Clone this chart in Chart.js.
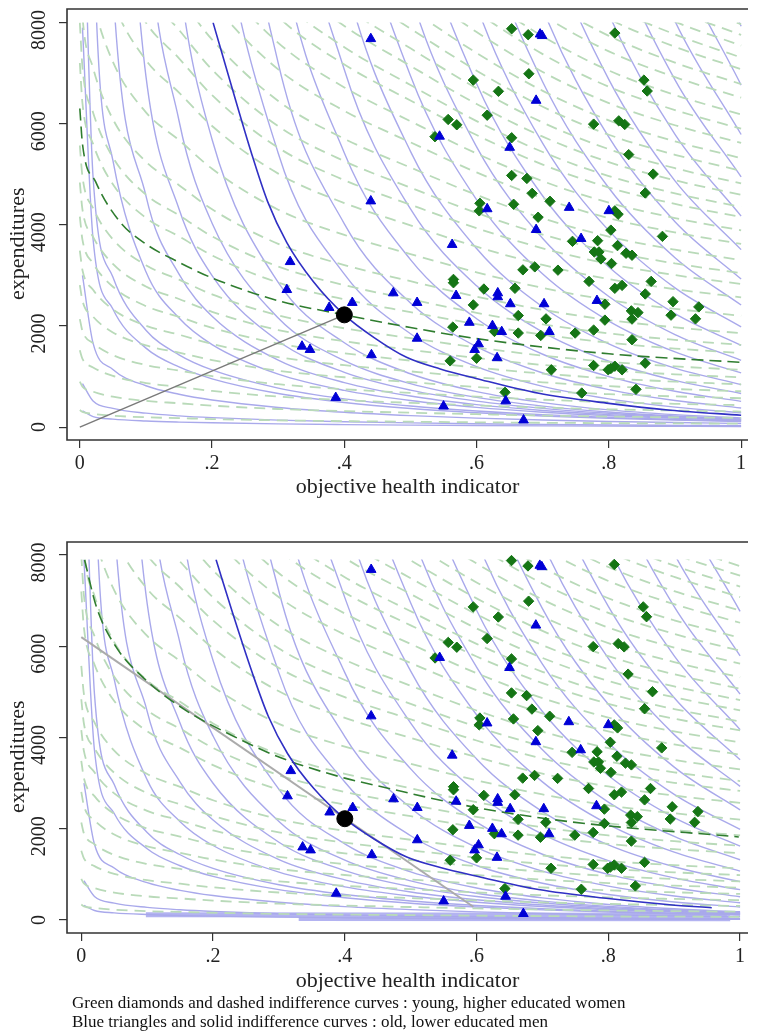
<!DOCTYPE html>
<html>
<head>
<meta charset="utf-8">
<script src="https://cdn.jsdelivr.net/npm/chart.js@4.4.1/dist/chart.umd.min.js"></script>
<style>
  html, body { margin: 0; padding: 0; background: #fff; }
  body { width: 757px; height: 1034px; position: relative; overflow: hidden;
         font-family: "Liberation Serif", "Times New Roman", serif; }
  canvas { position: absolute; left: 0; }
  #topChart { top: 0; }
  #bottomChart { top: 530px; }
  .note { position: absolute; left: 72px; font-size: 17px; color: #111; white-space: nowrap; }
</style>
</head>
<body>
<canvas id="topChart" width="757" height="500"></canvas>
<canvas id="bottomChart" width="757" height="470"></canvas>
<div class="note" style="top:993px">Green diamonds and dashed indifference curves : young, higher educated women</div>
<div class="note" style="top:1012px">Blue triangles and solid indifference curves : old, lower educated men</div>
<script>
// ---- axis ticks ----
const xTicks = [0, 0.2, 0.4, 0.6, 0.8, 1];
const xTickLabels = ['0', '.2', '.4', '.6', '.8', '1'];
const yTicks = [0, 2000, 4000, 6000, 8000];
const yTickLabels = ['0', '2000', '4000', '6000', '8000'];

// ---- observations: old, lower educated men (blue triangles) ----
const triX = [0.440, 0.440, 0.318, 0.313, 0.377, 0.412, 0.336, 0.348, 0.441, 0.387,
              0.696, 0.699, 0.690, 0.544, 0.650, 0.616, 0.740, 0.800, 0.690, 0.563,
              0.758, 0.474, 0.510, 0.569, 0.632, 0.632, 0.651, 0.702, 0.782, 0.589,
              0.624, 0.638, 0.710, 0.510, 0.603, 0.597, 0.631, 0.550, 0.644, 0.671];
const triY = [7680, 4470, 3270, 2717, 2363, 2462, 1597, 1532, 1428, 583,
              7770, 7740, 6460, 5750, 5530, 4315, 4342, 4277, 3904, 3609,
              3727, 2652, 2462, 2600, 2652, 2574, 2436, 2436, 2501, 2069,
              2004, 1886, 1886, 1754, 1644, 1532, 1369, 413, 517, 138];

// ---- observations: young, higher educated women (green diamonds) ----
const diaX = [0.653, 0.678, 0.809, 0.679, 0.595, 0.853, 0.858, 0.633, 0.616, 0.557,
              0.570, 0.537, 0.653, 0.777, 0.815, 0.824, 0.830, 0.867, 0.653, 0.676,
              0.684, 0.855, 0.605, 0.604, 0.656, 0.711, 0.809, 0.814, 0.693, 0.803,
              0.881, 0.745, 0.783, 0.813, 0.778, 0.785, 0.788, 0.826, 0.835, 0.804,
              0.670, 0.688, 0.723, 0.770, 0.864, 0.565, 0.565, 0.658, 0.611, 0.809,
              0.820, 0.855, 0.595, 0.794, 0.897, 0.936, 0.834, 0.844, 0.663, 0.705,
              0.794, 0.835, 0.894, 0.931, 0.564, 0.663, 0.627, 0.697, 0.749, 0.777,
              0.835, 0.600, 0.560, 0.713, 0.777, 0.799, 0.809, 0.803, 0.820, 0.855,
              0.643, 0.759, 0.841];
const diaY = [7878, 7760, 7793, 6988, 6863, 6863, 6647, 6641, 6169, 6084,
              5979, 5743, 5723, 5992, 6057, 5986, 5389, 5004, 4977, 4918,
              4623, 4630, 4427, 4277, 4407, 4466, 4277, 4210, 4151, 3896,
              3772, 3674, 3687, 3589, 3464, 3464, 3326, 3438, 3399, 3235,
              3110, 3169, 3104, 2882, 2882, 2921, 2855, 2745, 2731, 2745,
              2803, 2633, 2417, 2430, 2481, 2377, 2299, 2265, 2206, 2141,
              2116, 2136, 2214, 2141, 1978, 1860, 1892, 1813, 1860, 1919,
              1729, 1362, 1310, 1134, 1218, 1134, 1205, 1159, 1134, 1264,
              688, 674, 747];

// ---- solid indifference curves (old, lower educated men), y at blueGrid ----
const blueGrid = [0.004, 0.02, 0.05, 0.1, 0.15, 0.2, 0.3, 0.4, 0.5, 0.6, 0.7, 0.8, 0.9, 1.0];
const blueCurves = [
  [320, 208, 157, 120, 99, 85, 64, 50, 39, 31, 25, 20, 16, 13],
  [860, 515, 371, 276, 223, 187, 138, 106, 83, 65, 52, 42, 34, 27],
  [3000, 1660, 1141, 818, 649, 536, 389, 293, 227, 178, 141, 112, 90, 72],
  [7900, 3720, 2335, 1562, 1189, 955, 665, 488, 368, 284, 221, 174, 138, 110],
  [11400, 4951, 2968, 1917, 1430, 1131, 772, 558, 417, 318, 246, 192, 151, 120],
  [29600, 10090, 5275, 3072, 2156, 1633, 1048, 726, 525, 390, 295, 226, 174, 136],
  [null, 19150, 8719, 4574, 3024, 2192, 1325, 880, 614, 444, 328, 246, 187, 143],
  [null, null, 14670, 6935, 4312, 2997, 1704, 1083, 732, 514, 371, 273, 203, 154],
  [null, null, 24300, 10370, 6059, 4032, 2159, 1313, 859, 587, 414, 298, 219, 163],
  [null, null, null, 16200, 8914, 5689, 2862, 1668, 1055, 702, 484, 341, 246, 180],
  [null, null, null, null, 18700, 11430, 5416, 3024, 1847, 1195, 805, 558, 395, 285],
  [null, null, null, null, 24900, 15200, 7200, 4020, 2456, 1590, 1070, 742, 525, 379],
  [null, null, null, null, null, 20500, 9713, 5422, 3312, 2144, 1441, 999, 708, 510],
  [null, null, null, null, null, 26700, 12660, 7066, 4316, 2794, 1880, 1303, 923, 665],
  [null, null, null, null, null, 33800, 16000, 8930, 5454, 3531, 2376, 1646, 1166, 841],
  [null, null, null, null, null, null, 20380, 11380, 6948, 4497, 3027, 2097, 1486, 1071],
  [null, null, null, null, null, null, 25100, 14020, 8563, 5543, 3730, 2584, 1831, 1320],
  [null, null, null, null, null, null, null, 17170, 10490, 6790, 4570, 3166, 2243, 1617],
  [null, null, null, null, null, null, null, 21080, 12870, 8335, 5610, 3886, 2753, 1984],
  [null, null, null, null, null, null, null, null, 15660, 10140, 6825, 4728, 3350, 2414],
  [null, null, null, null, null, null, null, null, 19000, 12300, 8277, 5733, 4063, 2928],
  [null, null, null, null, null, null, null, null, null, 14740, 9919, 6873, 4870, 3510],
  [null, null, null, null, null, null, null, null, null, 17520, 11790, 8170, 5789, 4172],
  [null, null, null, null, null, null, null, null, null, null, 13990, 9693, 6869, 4950],
  [null, null, null, null, null, null, null, null, null, null, 16350, 11330, 8028, 5787],
  [null, null, null, null, null, null, null, null, null, null, null, 13240, 9383, 6764],
  [null, null, null, null, null, null, null, null, null, null, null, 15530, 11000, 7928]
];

// ---- dashed indifference curves (young, higher educated women), y at greenGrid ----
const greenGrid = [0, 0.004, 0.02, 0.05, 0.1, 0.15, 0.2, 0.3, 0.4, 0.5, 0.6, 0.7, 0.8, 0.9, 1.0];
const greenCurves = [
  [338, 300, 263, 225, 194, 177, 159, 134, 118, 107, 95, 86, 78, 73, 69],
  [901, 801, 701, 601, 518, 472, 425, 358, 316, 285, 255, 229, 209, 194, 183],
  [1518, 1350, 1181, 1012, 872, 795, 716, 603, 533, 480, 429, 386, 352, 328, 308],
  [2136, 1898, 1661, 1424, 1227, 1119, 1007, 848, 749, 675, 603, 542, 495, 461, 434],
  [2810, 2498, 2185, 1873, 1615, 1472, 1325, 1115, 986, 888, 794, 714, 651, 607, 571],
  [3490, 3102, 2715, 2327, 2005, 1828, 1645, 1385, 1224, 1102, 986, 886, 809, 753, 709],
  [4164, 3702, 3239, 2776, 2393, 2181, 1963, 1653, 1461, 1315, 1177, 1058, 965, 899, 846],
  [4838, 4301, 3763, 3226, 2780, 2534, 2281, 1920, 1697, 1528, 1367, 1229, 1121, 1044, 983],
  [5569, 4950, 4332, 3713, 3200, 2917, 2625, 2210, 1954, 1759, 1574, 1414, 1291, 1202, 1132],
  [7201, 6401, 5601, 4801, 4138, 3772, 3395, 2858, 2526, 2275, 2035, 1829, 1669, 1554, 1463],
  [8000, 7112, 6223, 5334, 4597, 4191, 3772, 3175, 2807, 2527, 2261, 2032, 1854, 1727, 1626],
  [9135, 8120, 7105, 6090, 5249, 4785, 4307, 3625, 3205, 2886, 2581, 2320, 2117, 1972, 1856],
  [null, 9632, 8428, 7224, 6226, 5676, 5108, 4300, 3801, 3423, 3062, 2752, 2511, 2339, 2202],
  [null, 11228, 9825, 8421, 7258, 6617, 5955, 5013, 4431, 3990, 3569, 3208, 2927, 2727, 2566],
  [null, null, 10829, 9282, 8000, 7293, 6564, 5525, 4884, 4398, 3934, 3536, 3227, 3006, 2829],
  [null, null, 11662, 9996, 8616, 7854, 7069, 5950, 5260, 4736, 4236, 3808, 3475, 3237, 3046],
  [null, null, null, 10836, 9340, 8514, 7663, 6450, 5702, 5134, 4592, 4128, 3767, 3509, 3302],
  [null, null, null, 11886, 10245, 9339, 8405, 7075, 6254, 5632, 5037, 4528, 4132, 3849, 3622],
  [null, null, null, null, 11005, 10032, 9029, 7600, 6718, 6050, 5411, 4864, 4438, 4134, 3891],
  [null, null, null, null, 11747, 10709, 9638, 8113, 7171, 6458, 5776, 5192, 4738, 4413, 4154],
  [null, null, null, null, null, 11220, 10098, 8500, 7514, 6766, 6052, 5440, 4964, 4624, 4352],
  [null, null, null, null, null, 11847, 10662, 8975, 7934, 7144, 6390, 5744, 5241, 4882, 4595],
  [null, null, null, null, null, null, 11182, 9413, 8321, 7492, 6702, 6024, 5497, 5120, 4819],
  [null, null, null, null, null, null, 11761, 9900, 8752, 7880, 7049, 6336, 5782, 5386, 5069],
  [null, null, null, null, null, null, null, 10390, 9185, 8270, 7398, 6650, 6068, 5652, 5320],
  [null, null, null, null, null, null, null, 10975, 9702, 8736, 7814, 7024, 6409, 5970, 5619],
  [null, null, null, null, null, null, null, null, 10188, 9174, 8206, 7376, 6731, 6270, 5901],
  [null, null, null, null, null, null, null, null, 10674, 9612, 8597, 7728, 7052, 6569, 6182],
  [null, null, null, null, null, null, null, null, 11249, 10129, 9060, 8144, 7431, 6922, 6515],
  [null, null, null, null, null, null, null, null, null, 10547, 9434, 8480, 7738, 7208, 6784],
  [null, null, null, null, null, null, null, null, null, 11005, 9843, 8848, 8074, 7521, 7078],
  [null, null, null, null, null, null, null, null, null, 11363, 10164, 9136, 8337, 7766, 7309],
  [null, null, null, null, null, null, null, null, null, null, 10493, 9432, 8607, 8017, 7546],
  [null, null, null, null, null, null, null, null, null, null, 10787, 9696, 8848, 8242, 7757],
  [null, null, null, null, null, null, null, null, null, null, 11081, 9960, 9089, 8466, 7968]
];

// ---- highlighted curves through the chosen bundle ----
const blueHiTopX = [0.2015, 0.229, 0.259, 0.284, 0.313, 0.353, 0.4, 0.445, 0.494, 0.545, 0.599, 0.694, 0.8, 0.893, 1.0];
const blueHiTopY = [8000, 6760, 5440, 4460, 3650, 2880, 2220, 1770, 1380, 1150, 963, 668, 470, 334, 236];
const greenHiTopX = [0, 0.004, 0.024, 0.06, 0.1, 0.15, 0.2, 0.3, 0.4, 0.5, 0.6, 0.8, 1.0];
const greenHiTopY = [6300, 5600, 4850, 4070, 3620, 3260, 2950, 2500, 2220, 1970, 1750, 1450, 1280];

const blueHiBotX = [0.2045, 0.229, 0.259, 0.284, 0.313, 0.353, 0.4, 0.445, 0.494, 0.545, 0.599, 0.694, 0.8, 0.893, 0.957];
const blueHiBotY = [7900, 6760, 5440, 4460, 3650, 2880, 2220, 1770, 1380, 1150, 963, 668, 470, 334, 268];
const greenHiBotX = [0.005, 0.023, 0.053, 0.098, 0.158, 0.228, 0.302, 0.4, 0.444, 0.594, 0.744, 0.998];
const greenHiBotY = [7890, 6860, 5980, 5260, 4600, 4050, 3560, 3110, 2960, 2480, 2150, 1820];

// ---- grey lines and the chosen bundle ----
const rayX = [0, 0.4];
const rayY = [0, 2220];
const budgetX = [0, 0.595];
const budgetY = [6200, 290];
const bundleX = [0.4];
const bundleY = [2220];

// lowest solid curves pile up as bands at the bottom of the lower panel
const bandAX = [0.098, 0.98];
const bandAY = [115, 105];
const bandBX = [0.33, 0.985];
const bandBY = [45, 40];

// ---- helpers ----
Chart.defaults.font.family = '"Liberation Serif", "Times New Roman", serif';
Chart.defaults.color = '#222';

function toPoints(xs, ys) {
  return xs.map((x, i) => ({ x: x, y: ys[i] })).filter(p => p.y !== null);
}

// plot-region box (left, top, bottom), and cut curves at the top of their plotted range
const framePlugin = {
  id: 'frame',
  beforeDatasetDraw(chart, args) {
    const ds = chart.data.datasets[args.index];
    if (ds.cap === undefined) return;
    const area = chart.chartArea;
    const top = chart.scales.y.getPixelForValue(ds.cap);
    chart.ctx.save();
    chart.ctx.beginPath();
    chart.ctx.rect(area.left, top, area.right - area.left, area.bottom - top);
    chart.ctx.clip();
  },
  afterDatasetDraw(chart, args) {
    if (chart.data.datasets[args.index].cap !== undefined) chart.ctx.restore();
  },
  afterDraw(chart) {
    const a = chart.chartArea;
    const ctx = chart.ctx;
    ctx.save();
    ctx.strokeStyle = '#333';
    ctx.lineWidth = 1.6;
    ctx.beginPath();
    ctx.moveTo(a.right, a.top);
    ctx.lineTo(a.left, a.top);
    ctx.lineTo(a.left, a.bottom);
    ctx.lineTo(a.right, a.bottom);
    ctx.stroke();
    ctx.restore();
  }
};

function curveSet(grid, curves, style, cap) {
  return curves.map(c => Object.assign({
    data: toPoints(grid, c),
    showLine: true,
    pointRadius: 0,
    cubicInterpolationMode: 'monotone',
    cap: cap
  }, style));
}

function makePanel(canvasId, p) {
  const lightBlue = { borderColor: '#a9a9eb', borderWidth: 1.4, order: 7 };
  const lightGreen = { borderColor: '#b9dab9', borderWidth: 1.8, borderDash: [11, 7], order: 6 };

  let datasets = [];
  datasets = datasets.concat(curveSet(blueGrid, blueCurves, lightBlue, p.cap));
  datasets = datasets.concat(curveSet(greenGrid, greenCurves, lightGreen, p.cap));

  if (p.band) {
    datasets.push({ data: toPoints(bandAX, bandAY), showLine: true, pointRadius: 0,
      borderColor: '#b3b3f1', borderWidth: 5, order: 7 });
    datasets.push({ data: toPoints(bandBX, bandBY), showLine: true, pointRadius: 0,
      borderColor: '#b3b3f1', borderWidth: 6, order: 7 });
  }
  datasets.push({ data: toPoints(p.greyX, p.greyY), showLine: true, pointRadius: 0,
    borderColor: p.greyColor, borderWidth: p.greyWidth, order: 4 });
  datasets.push({ data: toPoints(p.blueX, p.blueY), showLine: true, pointRadius: 0,
    cubicInterpolationMode: 'monotone', borderColor: '#3030c4', borderWidth: 1.6, order: 3, cap: p.cap });
  datasets.push({ data: toPoints(p.greenX, p.greenY), showLine: true, pointRadius: 0,
    cubicInterpolationMode: 'monotone', borderColor: '#2f7d2f', borderWidth: 1.6,
    borderDash: [12, 6], order: 3, cap: p.cap });
  datasets.push({ data: toPoints(diaX, diaY), pointStyle: 'rectRot', pointRadius: 5.2,
    backgroundColor: '#157515', borderColor: '#157515', borderWidth: 1, order: 2 });
  datasets.push({ data: toPoints(triX, triY), pointStyle: 'triangle', pointRadius: 5.6,
    backgroundColor: '#0000d6', borderColor: '#0000d6', borderWidth: 1, order: 1 });
  datasets.push({ data: toPoints(bundleX, bundleY), pointStyle: 'circle', pointRadius: 8,
    backgroundColor: '#000', borderColor: '#000', borderWidth: 1, order: 0 });

  const tickGrid = { drawOnChartArea: false, drawTicks: true, tickLength: 8, color: '#333', lineWidth: 1.2 };

  return new Chart(document.getElementById(canvasId), {
    type: 'scatter',
    data: { datasets: datasets },
    options: {
      responsive: false,
      animation: false,
      devicePixelRatio: 1,
      events: [],
      layout: { padding: { top: p.padTop, right: 0, left: 0, bottom: 0 } },
      plugins: { legend: { display: false }, tooltip: { enabled: false } },
      scales: {
        x: {
          type: 'linear', min: p.xMin, max: p.xMax,
          afterBuildTicks: s => { s.ticks = xTicks.map(v => ({ value: v })); },
          afterFit: s => { s.height = p.xAxisHeight; },
          grid: tickGrid,
          border: { display: false },
          ticks: { font: { size: 20 }, color: '#222', padding: 4, autoSkip: false,
                   maxRotation: 0, callback: (v, i) => xTickLabels[i] },
          title: { display: true, text: 'objective health indicator', font: { size: 22 },
                   color: '#222', padding: { top: 0, bottom: p.titlePad } }
        },
        y: {
          type: 'linear', min: p.yMin, max: p.yMax,
          afterBuildTicks: s => { s.ticks = yTicks.map(v => ({ value: v })); },
          afterFit: s => { s.width = 67; },
          grid: tickGrid,
          border: { display: false },
          ticks: { font: { size: 20 }, color: '#222', padding: -8, minRotation: 90, maxRotation: 90,
                   crossAlign: 'center',
                   // long labels sit a little below their tick in the original
                   callback: (v, i) => yTickLabels[i].length > 1 ? yTickLabels[i] + '\u2002 ' : yTickLabels[i] },
          title: { display: true, text: 'expenditures       ', font: { size: 22 },
                   color: '#222', padding: { top: 5, bottom: 0 } }
        }
      }
    },
    plugins: [framePlugin]
  });
}

makePanel('topChart', {
  xMin: -0.0194, xMax: 1.0104, yMin: -255, yMax: 8269,
  padTop: 6, xAxisHeight: 60, titlePad: 0, cap: 8000,
  greyX: rayX, greyY: rayY, greyColor: '#7a7a7a', greyWidth: 1.5,
  blueX: blueHiTopX, blueY: blueHiTopY, greenX: greenHiTopX, greenY: greenHiTopY,
  band: false
});

makePanel('bottomChart', {
  xMin: -0.0217, xMax: 1.012, yMin: -285, yMax: 8285,
  padTop: 12, xAxisHeight: 67, titlePad: 6, cap: 7900,
  greyX: budgetX, greyY: budgetY, greyColor: '#ababab', greyWidth: 2,
  blueX: blueHiBotX, blueY: blueHiBotY, greenX: greenHiBotX, greenY: greenHiBotY,
  band: true
});
</script>
</body>
</html>
